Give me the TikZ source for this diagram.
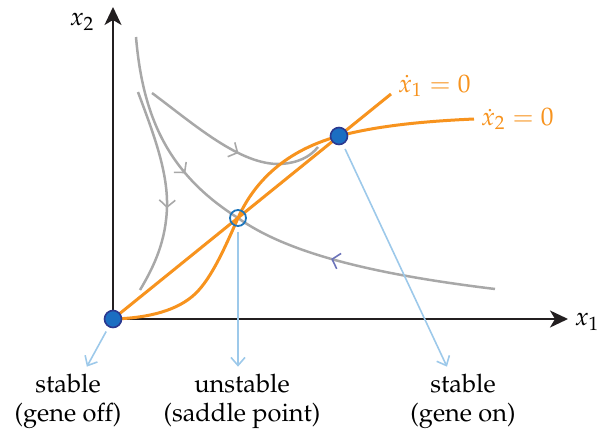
\documentclass[tikz,border=0pt]{standalone}
\usepackage[T1]{fontenc}
\usepackage{mathpazo}
\usetikzlibrary{arrows.meta}
\usetikzlibrary{decorations.markings}
\usetikzlibrary{positioning}
\definecolor{nullorange}{HTML}{F7931E}
\definecolor{trajgray}{HTML}{A8A8A8}
\definecolor{pointblue}{HTML}{1B6EC2}
\definecolor{pointedge}{HTML}{2B3990}
\definecolor{ringblue}{HTML}{1C75BC}
\definecolor{callblue}{HTML}{9DC9EA}
\definecolor{chevblue}{HTML}{6B73B9}
\definecolor{axisblack}{HTML}{231F20}
\tikzset{
  axis/.style={axisblack, line width=1pt,
    {Stealth[length=9pt,width=8.5pt,inset=2.5pt]}-{Stealth[length=9pt,width=8.5pt,inset=2.5pt]}},
  traj/.style={trajgray, line width=1.25pt},
  flowmark/.style 2 args={postaction={decorate, decoration={markings,
    mark=at position #1 with {\arrow[#2]{Straight Barb[length=3.5pt,width=8pt,line width=0.8pt]}}}}},
  nullcline/.style={nullorange, line width=1.5pt},
  stablept/.style={circle, fill=pointblue, draw=pointedge, line width=0.8pt, minimum size=8.5pt, inner sep=0pt},
  saddlept/.style={circle, draw=ringblue, line width=0.9pt, minimum size=8pt, inner sep=0pt},
  callout/.style={callblue, line width=0.8pt, shorten <=2.5pt,
    -{Straight Barb[length=4pt,width=7pt,line width=0.8pt]}},
  statelbl/.style={align=center},
  nulllbl/.style={text=nullorange}
}
\begin{document}
\begin{tikzpicture}[x=0.5pt, y=-0.5pt, font=\fontsize{12.7}{14.5}\selectfont]
  \useasboundingbox (0,0) rectangle (600,434);
  % axes
  \coordinate (O) at (113,319);
  \coordinate (ytip) at (113,7);
  \coordinate (xtip) at (568,319);
  \draw[axis] (ytip) -- (O) -- (xtip);
  \node (x2lbl) at (82,22) {$x_2$};
  \node (x1lbl) at (587,322) {$x_1$};
  % trajectories
  \draw[traj, flowmark={0.58}{}] (138,92) .. controls (152,130) and (168,170) .. (167,207)
    .. controls (166,240) and (155,265) .. (140,290);
  \draw[traj, flowmark={0.55}{}] (152,93) .. controls (195,125) and (240,165) .. (280,164)
    .. controls (298,163) and (310,157) .. (318,147);
  \draw[traj, flowmark={0.68}{}] (136,37) .. controls (143,120) and (170,175) .. (238,218);
  \draw[traj, flowmark={0.62}{chevblue}] (495,289) .. controls (380,275) and (290,255) .. (238,218);
  % nullclines
  \coordinate (x1end) at (391,94);
  \coordinate (x2end) at (474,119);
  \draw[nullcline] (O) -- (x1end);
  \draw[nullcline] (O) .. controls (150,318) and (178,310) .. (195,294)
    .. controls (212,278) and (226,245) .. (238,218)
    .. controls (252,187) and (280,152) .. (339,136)
    .. controls (380,125) and (430,121) .. (x2end);
  \node[nulllbl, right=0pt of x1end, yshift=4pt] (x1null) {$\dot{x}_1 = 0$};
  \node[nulllbl, right=0pt of x2end] (x2null) {$\dot{x}_2 = 0$};
  % fixed points
  \node[stablept] (off) at (O) {};
  \node[saddlept] (saddle) at (238,218) {};
  \node[stablept] (on) at (339,136) {};
  % state labels
  \node[statelbl] (offlbl) at (68,401) {stable\\(gene off)};
  \node[statelbl] (saddlelbl) at (242,401) {unstable\\(saddle point)};
  \node[statelbl] (onlbl) at (463,401) {stable\\(gene on)};
  \draw[callout] (off) -- (offlbl);
  \draw[callout] (saddle) -- (saddle |- saddlelbl.north);
  \draw[callout] (on) -- (onlbl);
\end{tikzpicture}
\end{document}
